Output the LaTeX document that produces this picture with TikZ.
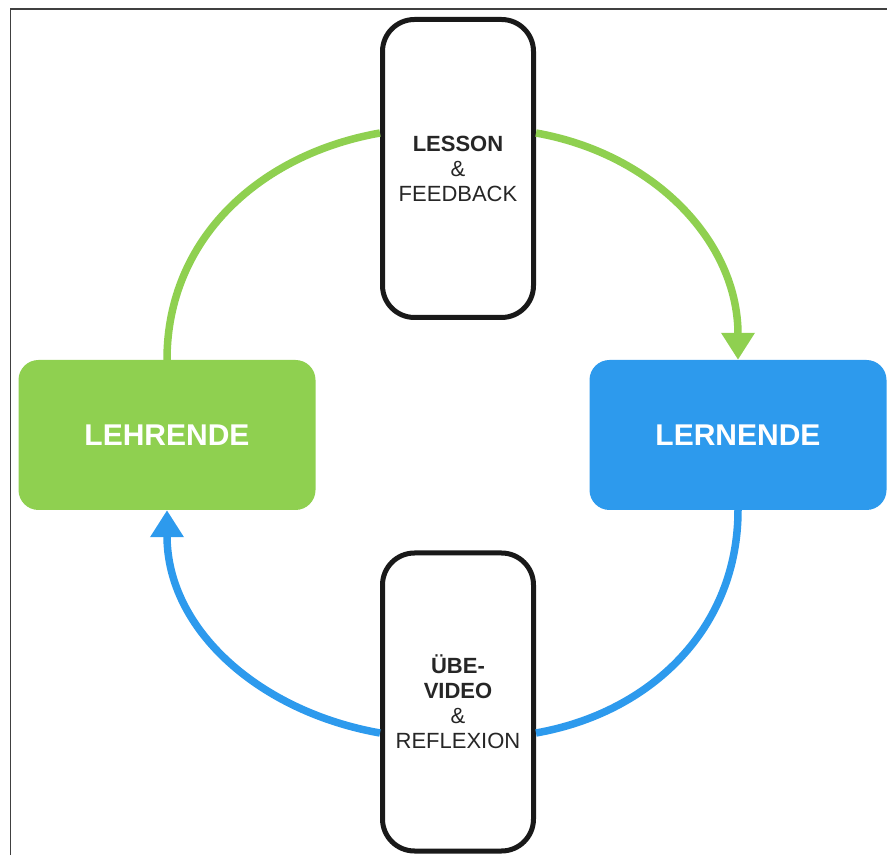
\documentclass[tikz,border=0pt]{standalone}
\usepackage{fontspec}
\setmainfont{Liberation Sans}
\usetikzlibrary{arrows.meta}
\definecolor{lehrgreen}{RGB}{143,208,80}
\definecolor{lernblue}{RGB}{45,154,237}
\tikzset{
  node-step/.style={draw=black!90,line width=5pt,rounded corners=32pt,fill=white,minimum width=151pt,minimum height=298pt,inner sep=0pt,align=center,text=black!85,font=\fontsize{22}{25}\selectfont},
  node-role/.style={rounded corners=20pt,minimum width=297pt,minimum height=150pt,inner sep=0pt,text=white,font=\fontsize{30}{34}\selectfont\bfseries},
  flow-g/.style={draw=lehrgreen,line width=7.5pt},
  flow-b/.style={draw=lernblue,line width=7.5pt},
  tip/.style={-{Triangle[length=27pt,width=32pt]}},
  frame-line/.style={draw=black!75,line width=1.3pt},
}
\begin{document}
\begin{tikzpicture}[x=1pt,y=1pt]
  \useasboundingbox (0,0) rectangle (887,855);

  % Rahmen
  \draw[frame-line] (10.5,0) -- (10.5,846) -- (887,846);

  % Knoten
  \node[node-step] (lesson) at (458,686.5) {\textbf{LESSON}\\\&\\FEEDBACK};
  \node[node-step] (uebe)   at (458,153)   {\textbf{ÜBE-}\\\textbf{VIDEO}\\\&\\REFLEXION};
  \node[node-role,fill=lehrgreen] (lehrende) at (167,420) {LEHRENDE};
  \node[node-role,fill=lernblue]  (lernende) at (738,420) {LERNENDE};

  % Kreislauf oben
  \draw[flow-g] (lehrende.north) to[out=90,in=190] ([yshift=35.5pt]lesson.west);
  \draw[flow-g,tip] ([yshift=35.5pt]lesson.east) to[out=-10,in=90] (lernende.north);

  % Kreislauf unten
  \draw[flow-b] (lernende.south) to[out=-90,in=10] ([yshift=-31pt]uebe.east);
  \draw[flow-b,tip] ([yshift=-31pt]uebe.west) to[out=170,in=-90] (lehrende.south);

\end{tikzpicture}
\end{document}
